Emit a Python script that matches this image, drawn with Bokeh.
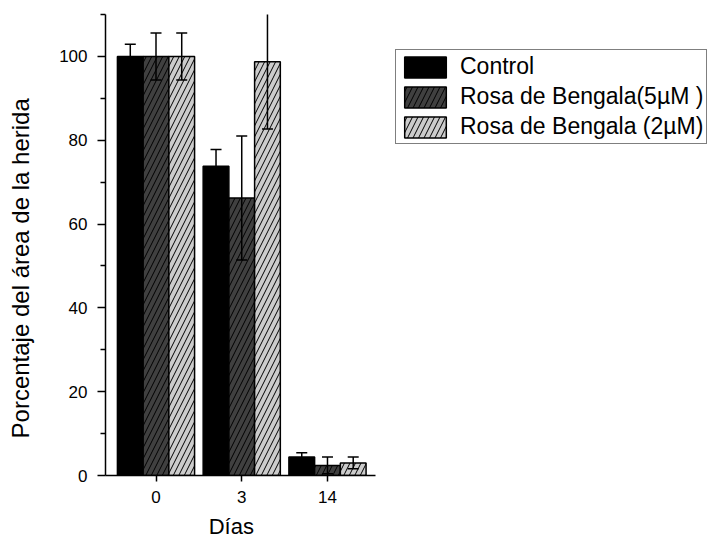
from bokeh.plotting import figure
from bokeh.models import (ColumnDataSource, FixedTicker, Range1d, Legend, LegendItem)
from bokeh.embed import file_html
from bokeh.resources import INLINE

days = ["0", "3", "14"]
series = ["Control", "Rosa de Bengala(5µM )", "Rosa de Bengala (2µM)"]
control = [100.0, 73.8, 4.4]
control_err = [2.9, 4.0, 1.0]
rb5 = [100.0, 66.2, 2.4]
rb5_err = [5.6, 14.8, 2.0]
rb2 = [100.0, 98.7, 3.0]
rb2_err = [5.6, 16.0, 1.4]

values = [control, rb5, rb2]
errors = [control_err, rb5_err, rb2_err]
fills = ["#000000", "#404040", "#cccccc"]
hatches = [None, "/", "/"]
offsets = [-0.3, 0.0, 0.3]

FONT = "Liberation Sans"
NB = "\u00a0"

p = figure(frame_width=270, frame_height=461, output_backend="svg", toolbar_location=None,
           x_range=Range1d(-0.589, 2.56), y_range=Range1d(0, 110),
           min_border_left=105, min_border_right=0, min_border_top=14, min_border_bottom=60)
p.outline_line_color = None
p.grid.visible = False
p.background_fill_color = "white"
p.border_fill_color = "white"

items = []
for i in range(3):
    xs = [k + offsets[i] for k in range(len(days))]
    src = ColumnDataSource(dict(x=xs, top=values[i],
                                lo=[v - e for v, e in zip(values[i], errors[i])],
                                hi=[v + e for v, e in zip(values[i], errors[i])]))
    kw = dict(x="x", top="top", bottom=0, width=0.3, source=src,
              fill_color=fills[i], line_color="black", line_width=1.5)
    if hatches[i]:
        kw.update(hatch_pattern=hatches[i], hatch_color="black", hatch_scale=11, hatch_weight=1)
    r = p.vbar(**kw)
    items.append(LegendItem(label=series[i], renderers=[r]))
    p.segment(x0="x", y0="lo", x1="x", y1="hi", source=src, line_color="black", line_width=1.5)
    p.scatter(x="x", y="hi", source=src, marker="dash", size=11, line_color="black", line_width=1.5)
    p.scatter(x="x", y="lo", source=src, marker="dash", size=11, line_color="black", line_width=1.5)

# axes
ya = p.yaxis[0]
ya.ticker = FixedTicker(ticks=[0, 20, 40, 60, 80, 100], minor_ticks=[10, 30, 50, 70, 90, 110])
ya.axis_label = "Porcentaje del área de la herida" + NB * 7
ya.axis_label_text_font = FONT
ya.axis_label_text_font_size = "24px"
ya.axis_label_text_font_style = "normal"
ya.axis_label_text_color = "black"
ya.axis_label_standoff = 22
ya.major_label_text_font = FONT
ya.major_label_text_font_size = "17px"
ya.major_label_text_color = "black"
ya.major_label_standoff = 10
ya.major_tick_out = 8
ya.major_tick_in = 0
ya.minor_tick_out = 5
ya.minor_tick_in = 0
ya.axis_line_width = 1.5
ya.major_tick_line_width = 1.5
ya.minor_tick_line_width = 1.5

xa = p.xaxis[0]
xa.ticker = FixedTicker(ticks=[0, 1, 2], minor_ticks=[])
xa.major_label_overrides = {0: days[0], 1: days[1], 2: days[2]}
xa.axis_label = "Días" + NB * 3
xa.axis_label_text_font = FONT
xa.axis_label_text_font_size = "22px"
xa.axis_label_text_font_style = "normal"
xa.axis_label_text_color = "black"
xa.axis_label_standoff = 8
xa.major_label_text_font = FONT
xa.major_label_text_font_size = "17px"
xa.major_label_text_color = "black"
xa.major_label_standoff = 9
xa.major_tick_out = 6
xa.major_tick_in = 0
xa.axis_line_width = 1.5
xa.major_tick_line_width = 1.5

legend = Legend(items=items, location=(20, 331))
legend.label_text_font = FONT
legend.label_text_font_size = "23px"
legend.label_text_color = "black"
legend.glyph_width = 52
legend.glyph_height = 26
legend.label_height = 26
legend.label_standoff = 9
legend.spacing = 3
legend.padding = 3
legend.margin = 0
legend.border_line_color = "black"
legend.border_line_width = 1.5
legend.background_fill_alpha = 1
p.add_layout(legend, "right")

open("out.html", "w").write(file_html(p, INLINE))
